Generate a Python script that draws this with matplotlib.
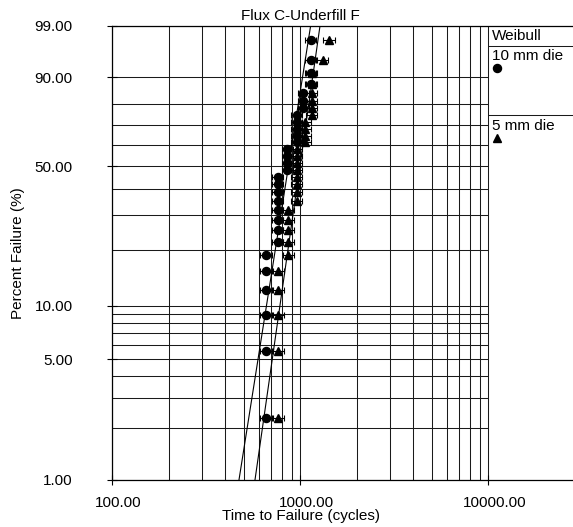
import numpy as np
import matplotlib
matplotlib.use("Agg")
import matplotlib.pyplot as plt
from matplotlib.transforms import ScaledTranslation

plt.rcParams['font.family'] = ['Liberation Sans', 'DejaVu Sans']

# ---- data ----
pct_rank = [2.30, 5.59, 8.88, 12.17, 15.46, 18.75, 22.04, 25.33, 28.62, 31.91,
            35.20, 38.49, 41.78, 45.07, 48.36, 51.64, 54.93, 58.22, 61.51, 64.80,
            68.09, 71.38, 74.67, 77.96, 81.25, 84.54, 87.83, 91.12, 94.41, 97.70]
t_10mm = [657, 657, 657, 657, 657, 657, 758, 758, 758, 758,
          758, 758, 758, 758, 853, 853, 853, 853, 957, 957,
          957, 957, 957, 1038, 1038, 1038, 1136, 1136, 1136, 1136]
t_5mm = [764, 764, 764, 764, 764, 862, 862, 862, 862, 862,
         957, 957, 957, 957, 957, 957, 957, 957, 1059, 1059,
         1059, 1059, 1150, 1150, 1150, 1150, 1150, 1150, 1320, 1421]
fit_eta = [912, 1044]
fit_beta = [6.98, 7.69]
series_names = ["10 mm die", "5 mm die"]
y_ticks = [1, 5, 10, 50, 90, 99]
y_grid = [1, 2, 3, 4, 5, 6, 7, 8, 9, 10, 20, 30, 40, 50, 60, 70, 80, 90, 99]
x_ticks = [100, 1000, 10000]
x_grid = [100, 200, 300, 400, 500, 600, 700, 800, 900,
          1000, 2000, 3000, 4000, 5000, 6000, 7000, 8000, 9000, 10000]


def fwd(p):
    p = np.clip(np.asarray(p, dtype=float), 1e-6, 100 - 1e-6)
    return np.log(-np.log(1 - p / 100.0))


def inv(w):
    return 100.0 * (1 - np.exp(-np.exp(np.asarray(w, dtype=float))))


FS = 11
W, H = 573, 527
fig = plt.figure(figsize=(W / 100, H / 100), dpi=100)
x0, x1 = 112.3, 573.0
y_top, y_bot = 25.7, 480.0
ax = fig.add_axes([x0 / W, 1 - y_bot / H, (x1 - x0) / W, (y_bot - y_top) / H])
ax.set_xscale('log')
ax.set_yscale('function', functions=(fwd, inv))
xmax = 10 ** (2 + (x1 - x0) / 188.0)
ax.set_xlim(100, xmax)
ax.set_ylim(1, 99)

gc = '#1a1a1a'
ax.vlines(x_grid, 1, 99, color=gc, lw=0.75, zorder=1)
ax.hlines(y_grid, 100, 10000, color=gc, lw=0.75, zorder=1)

# fit lines
pp = np.array([1.0, 99.0])
for eta, beta in zip(fit_eta, fit_beta):
    tt = eta * (-np.log(1 - pp / 100.0)) ** (1.0 / beta)
    ax.plot(tt, pp, color='black', lw=0.8, zorder=2)

# data points with small interval bars
for t, mk in zip([t_10mm, t_5mm], ['o', '^']):
    t = np.array(t, dtype=float)
    xerr = np.vstack([t - t / 1.07, t * 0.07])
    ax.errorbar(t, pct_rank, xerr=xerr, fmt=mk, color='black', ms=5.8,
                elinewidth=0.8, capsize=2, capthick=0.8, zorder=3)

ax.set_xticks(x_ticks)
ax.set_xticklabels([f"{v:.2f}" for v in x_ticks])
ax.set_yticks(y_ticks)
ax.set_yticklabels([f"{v:.2f}" for v in y_ticks])
ax.minorticks_off()
ax.tick_params(axis='both', direction='inout', length=7, width=0.8,
               labelsize=FS, colors='black')
ax.tick_params(axis='x', pad=8)
ax.tick_params(axis='y', pad=25)
off = ScaledTranslation(6 / 100, 0, fig.dpi_scale_trans)
for lab in ax.get_xticklabels():
    lab.set_transform(lab.get_transform() + off)
for s in ['left', 'bottom', 'top']:
    ax.spines[s].set_linewidth(0.9)
ax.spines['right'].set_visible(False)

gx = (300.5 - x0) / (x1 - x0)
ax.set_xlabel("Time to Failure (cycles)", fontsize=FS)
ax.xaxis.set_label_coords(gx, -0.063)
ax.set_ylabel("Percent Failure (%)", fontsize=FS, labelpad=7)
ax.text(gx, 1.005, "Flux C-Underfill F", transform=ax.transAxes,
        ha='center', va='bottom', fontsize=FS)

# legend panel
def fx(px):
    return (px - x0) / (x1 - x0)


def fy(py):
    return (y_bot - py) / (y_bot - y_top)


ax.plot([fx(489), 1], [fy(46), fy(46)], transform=ax.transAxes,
        color=gc, lw=0.75, clip_on=False)
ax.plot([fx(489), 1], [fy(115), fy(115)], transform=ax.transAxes,
        color=gc, lw=0.75, clip_on=False)
ax.text(fx(492), fy(36), "Weibull", transform=ax.transAxes,
        ha='left', va='center', fontsize=FS)
ax.text(fx(492), fy(56), series_names[0], transform=ax.transAxes,
        ha='left', va='center', fontsize=FS)
ax.plot([fx(497)], [fy(68)], 'o', color='black', ms=5.8, transform=ax.transAxes)
ax.text(fx(492), fy(126), series_names[1], transform=ax.transAxes,
        ha='left', va='center', fontsize=FS)
ax.plot([fx(497)], [fy(138)], '^', color='black', ms=5.8, transform=ax.transAxes)

fig.savefig("out.png", dpi=100)
